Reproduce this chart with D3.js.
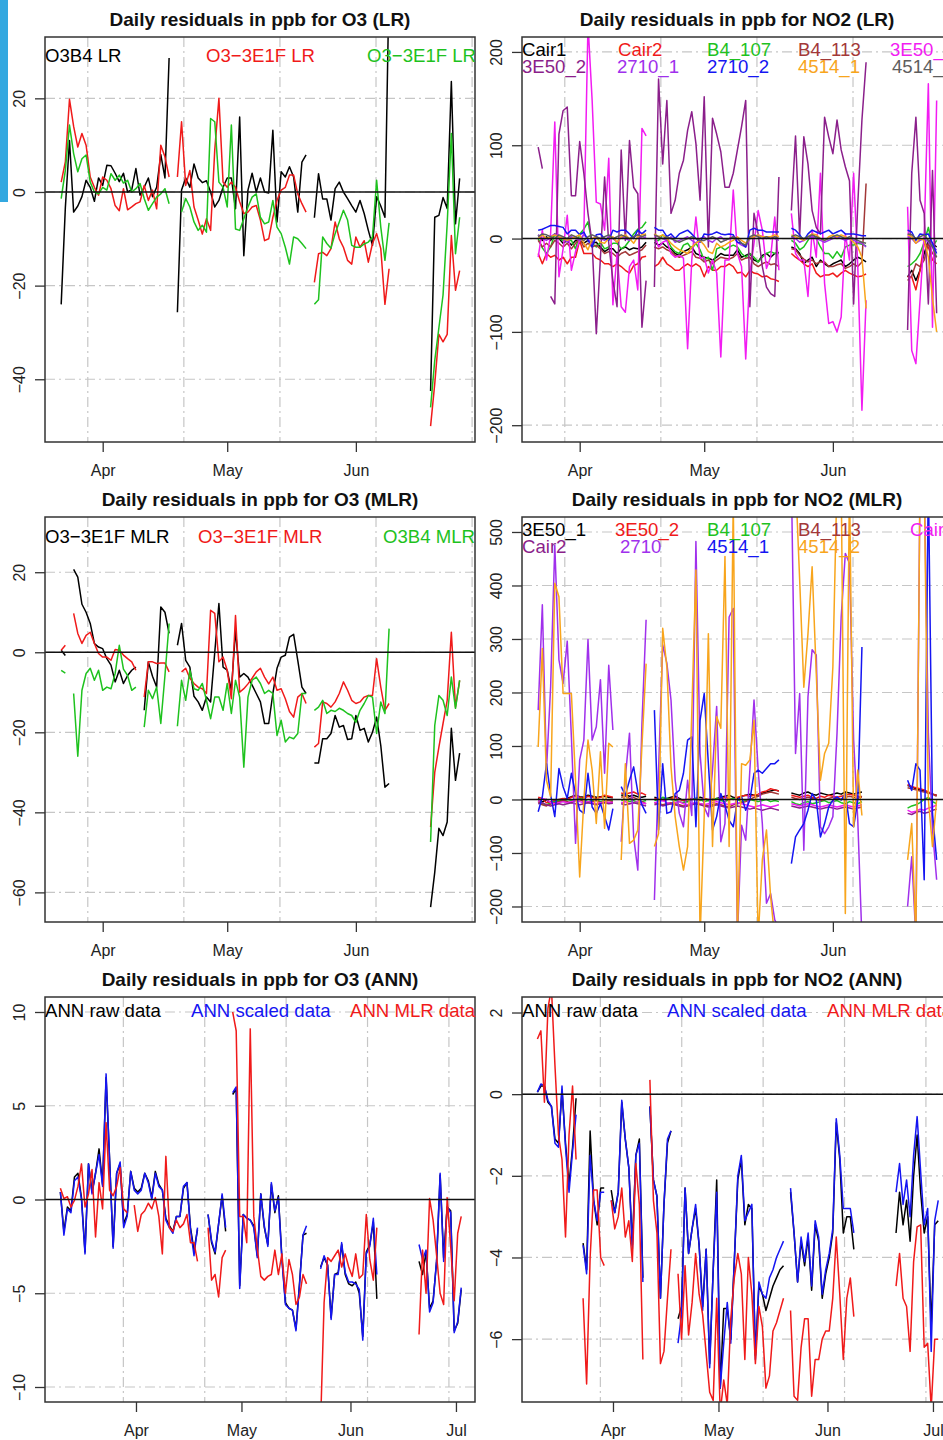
<!DOCTYPE html>
<html lang="en">
<meta charset="UTF-8">
<style>
  body { margin: 0; background: #fff; }
  svg { display: block; background: #fff; }
  text { font-family: "Liberation Sans", Arial, Helvetica, sans-serif; }
  .title { font-size: 19px; font-weight: bold; fill: #111; }
  .legend { font-size: 18.6px; }
  .axis text { font-size: 16px; fill: #222; }
  .axis line { stroke: #333; stroke-width: 1.3px; }
  .grid { stroke: #c6c6c6; stroke-width: 1.2px; stroke-dasharray: 10,4,2,4; fill: none; }
  .zero { stroke: #111; stroke-width: 1.5px; }
  .box { fill: none; stroke: #333; stroke-width: 1.5px; }
  .series { fill: none; stroke-width: 1.5px; stroke-linejoin: round; }
</style>
<body>
<svg id="chart" width="943" height="1440"></svg>
<script src="https://d3js.org/d3.v7.min.js"></script>
<script>
const NA = null;

// x categories: daily values
const topStart = Date.UTC(2014, 2, 22);      // LR / MLR panels, 97 days
const annStart = Date.UTC(2014, 2, 10, 12);  // ANN panels, 115 days

// y tick labels
const o3LrTicks = [-40, -20, 0, 20];
const no2LrTicks = [-200, -100, 0, 100, 200];
const o3MlrTicks = [-60, -40, -20, 0, 20];
const no2MlrTicks = [-200, -100, 0, 100, 200, 300, 400, 500];
const o3AnnTicks = [-10, -5, 0, 5, 10];
const no2AnnTicks = [-6, -4, -2, 0, 2];

// ---- O3 LR ----
const o3LrB4 = [-24, -3.4,
  11, -4.3, -3, -1, 2.5, 1, -2, 3, 1.4, 5.7, 5.6, 4, 2.2, 4, 0, 0.5, 5, -0.7, 1, 3, -1, 1, 8, 3, 28.6,
  NA,
  -25.7, 0.4, 3, 1, 6, 3, 2, 2.4, 0, -3.2, -1.8, 1, 3, 3, -3.6, 16, -13.6, 0.4, 4, 0, 3, 0, -0.2, 13.2, -6.4, 4.3, 3.2, 5.4, 3.2, -4.3, 6.4, 7.9,
  NA,
  -5.5, 3.9, -1.5, -1.5, -6, 0.7, 2.1, 0, -1.4, -2.9, -4.3, -1.8, -4.6, -8.2, -11.4, -1, -3, -5.4, 45,
  NA, NA, NA, NA, NA, NA, NA, NA, NA,
  -42.5, -5.4, -5, -1.2, -3.5, 23.6, -6.8, 2.9];
const o3Lr3E1Fa = [2.1, 6.4,
  19.8, 14, 9.6, 12.5, 10, 3.2, 1, -0.7, 3.2, 2.5, 0.7, -2.9, -4, 0.7, -3.8, -3.2, -2.5, -2.1, 1.4, -1.8, 0.4, -3.6, 10, 7.5, 3.2,
  NA,
  3.2, 15, 1.4, 4.6, -3.2, -6, -9, -5.7, -8.2, 9, 20, 2.1, 1, 2.1, 1, -2.1, -4.6, -4.3, -3.2, -2.9, -6, -10.4, -10, -5.4, -1.8, 0.4, 1, 3.6, 3.6, -0.4, -2.5, -4.3,
  NA,
  -19.3, -13.2, -12.9, -13.6, -12.1, -6.4, -10, -11.8, -14.6, -15.4, -9.6, -11.8, -10.4, -15, -11, -8.9, -12.1, -24, -16.4,
  NA, NA, NA, NA, NA, NA, NA, NA, NA,
  -50, -41, -30.4, -32, -30.4, -9.3, -21, -16.8];
const o3Lr3E1Fb = [-1.4, 4.6,
  14.3, 8.2, 4.3, 7.1, 7.9, 2.1, 0, -0.4, 1, 0.4, 3.9, 2.5, 3.6, 1.9, 2.5, 0, 0.7, 1.8, -1.4, -3.9, -2.5, -1.1, -0.4, 0.7, -2.5,
  NA, NA,
  -4.3, -1.4, -3.2, -6.4, -8.2, -7.1, -8.6, 15.7, 15, 2.1, 1, -3.2, 14.3, -7.9, -8.2, -5.7, -3.2, -1.1, -0.4, -5.4, -6.8, -6.4, -1.8, -7.5, -8.9, -11.8, -15.4, -9.6, -10, -11, -12.1,
  NA,
  -24, -23, -9.6, -11, -12, -8.9, -6.4, -3.9, -6, -11.4, -11.8, -11.8, -11.1, -10.7, -9.6, 2.5, -7.5, -14.6, -6.6,
  NA, NA, NA, NA, NA, NA, NA, NA, NA,
  -46, -36, -29, -22, -6.8, 12.5, -13.2, -5.4];

// ---- NO2 LR ----
const no2LrCair1 = [4, -2, 2, -2, 5, 0, -5, -2, -7, -2, -2, -5, -2, -5, -4, -9, -14, -11, -11, -16, -11, -9, -12, -10, -11, -9, -4,
  NA,
  -4, -7, -5, -9, -11, -16, -18, -14, -12, -9, -16, -18, -20, -21, -23, -20, -16, -18, -18, -18, -12, -20, -18, -16, -23, -25, -18, -16, -20, -16, -15,
  NA, NA,
  -9, -11, -16, -27, -23, -20, -30, -23, -27, -30, -27, -25, -23, -30, -27, -23, -20, -22, -25,
  NA, NA, NA, NA, NA, NA, NA, NA, NA,
  -41, -34, -45, -34, -16, -2, -5, -9];
const no2LrCair2 = [-16, -27, -16, -20, -18, -23, -20, -27, -20, -20, -2, -16, -16, -16, -21, -23, -27, -27, -30, -27, -30, -34, -37, -29, -27, -20, -19,
  NA,
  -30, -27, -20, -27, -30, -34, -34, -30, -27, -30, -27, -30, -41, -30, -34, -34, -30, -30, -27, -30, -37, -36, -41, -34, -37, -38, -41, -40, -43, -44, -46,
  NA, NA,
  -16, -20, -23, -27, -30, -27, -37, -41, -39, -39, -37, -41, -37, -34, -37, -39, -41, -40, -38,
  NA, NA, NA, NA, NA, NA, NA, NA, NA,
  -41, -41, -55, -34, -5, -9, -23, -27];
const no2LrB4107 = [0, -10, -16, -9, 5, 0, -2, -2, -2, -11, 5, 10, 18, -5, -9, -4, -11, -9, -5, -5, -11, -8, -2, 5, 10, 12, 18,
  NA,
  -2, -2, 4, 0, -9, -14, -16, -7, -5, -11, -5, -12, -23, -20, -34, -11, -9, -12, -9, -7, -9, -16, -20, -16, -20, -25, -20, -16, -14, -16, -16,
  NA, NA,
  -2, -5, -12, -9, -2, 5, 0, -9, -16, -16, -21, -14, -20, -9, -7, -7, -5, -6, -8,
  NA, NA, NA, NA, NA, NA, NA, NA, NA,
  -30, -27, -23, -16, -4, 12, -9, -2];
const no2LrB4113 = [-2, -9, -5, -9, -2, -5, -9, -5, -11, -5, 0, -9, -5, -9, -7, -11, -16, -14, -16, -20, -16, -14, -18, -16, -14, -12, -7,
  NA,
  -9, -11, -9, -12, -14, -18, -20, -18, -16, -14, -20, -21, -25, -23, -27, -23, -20, -21, -22, -20, -16, -23, -21, -20, -27, -30, -27, -25, -28, -27, -30,
  NA, NA,
  -11, -12, -18, -22, -25, -23, -27, -25, -25, -30, -30, -28, -27, -32, -30, -27, -30, -25, 59,
  NA, NA, NA, NA, NA, NA, NA, NA, NA,
  -45, -40, -27, -30, -23, -5, -16, -20];
const no2Lr3E501 = [-20, 9, -23, 5, 125, -41, -11, 25, -34, -14, -2, 5, 230, 148, 39, 37, 9, 86, -71, -16, -73, -79, -30, -23, -55, 118, 110,
  NA,
  5, -9, -4, -2, -16, -20, -18, -21, -118, -23, 23, -21, -20, -37, -23, -37, -127, -23, -23, 52, -16, -30, -129, -37, -5, 30, 9, -32, -20, 23, -34,
  NA, NA,
  27, -16, -23, -23, -62, 9, -20, 70, -48, -91, -89, -100, -84, 5, -23, 70, -30, -184, -66,
  NA, NA, NA, NA, NA, NA, NA, NA, NA,
  34, -120, -134, -66, 5, 166, -95, 148];
const no2Lr3E502 = [98, 75, NA, -62, -70, 112, 137, 141, 46, 46, 104, 70, 27, -5, -102, -20, 66, -5, -45, -73, 95, -2, 105, 55, 48, -95, -45,
  NA,
  -52, 171, 80, 148, 27, 41, 70, 84, 116, 136, 102, 41, 152, -9, 129, 112, 93, 55, 55, 70, 95, 120, 148, -73, 27, 5, -30, -52, -59, -62, 66,
  NA, NA,
  30, 110, 2, 109, 80, 30, 12, 5, 130, 109, 91, 127, 95, 77, 62, -70, 37, 127, 189,
  NA, NA, NA, NA, NA, NA, NA, NA, NA,
  -98, 70, 130, 41, 27, -70, 73, -80];
const no2Lr27101 = [4, 0, -2, 2, 5, 2, 0, -4, 2, 0, -2, 4, 0, -7, 2, 0, -2, 2, 0, -4, 2, 0, -2, 2, 4, 0, 2,
  NA,
  4, 2, 0, -2, 2, -4, -2, 0, 2, -2, -5, 0, 2, -2, -4, 0, 2, -2, 0, 2, -4, -7, -9, 0, 2, 4, 2, 0, 2, 0, -2,
  NA, NA,
  2, 0, -4, -2, 0, 2, 0, -2, -4, -2, 0, 2, 0, -2, 0, -2, -4, -5, -9,
  NA, NA, NA, NA, NA, NA, NA, NA, NA,
  2, 0, -5, -2, 0, -4, -9, -12];
const no2Lr27102 = [9, 10, 12, 14, 14, 13, 12, 5, 9, 9, 4, 7, -2, -9, 4, 5, 0, -2, 9, 7, 9, 9, 5, 0, 9, 5, 9,
  NA,
  12, 9, 9, 2, 5, 0, 5, 7, 9, 5, 0, -4, 5, 4, 5, 7, 5, 4, 5, 4, -4, -5, -9, 9, 11, 9, 9, 7, 7, 7, 7,
  NA, NA,
  11, 9, 4, -2, 5, 9, 7, 5, 7, 9, 5, 7, 9, 5, 5, 5, 4, 3, 3,
  NA, NA, NA, NA, NA, NA, NA, NA, NA,
  9, 7, -2, 5, 4, 5, -5, -16];
const no2Lr45141 = [0, 4, 0, 2, 4, 2, 0, -2, 0, 2, 4, -5, -12, 0, 2, -4, -5, 0, 2, -4, 2, 4, 0, -5, 2, 4, 5,
  NA,
  5, 2, 4, 0, -5, -9, -12, -14, -16, -9, -5, -2, -7, -14, -16, -5, -9, -7, -4, -2, 2, -2, -5, 0, 2, 4, 2, 2, 2, 4, 2,
  NA, NA,
  4, 2, 0, -2, 2, 5, 4, 0, -2, 2, 4, 2, 4, 2, 0, -4, -9, -20, -75,
  NA, NA, NA, NA, NA, NA, NA, NA, NA,
  4, 2, -5, 0, -2, -20, -64, -100];
const no2Lr45142 = [2, 5, 4, 2, 0, 4, 2, 0, 4, 2, 0, -2, 2, 4, 2, 0, 2, 4, 0, 2, 4, 2, 0, 2, 4, 2, 4,
  NA,
  4, 2, 0, 2, 0, -2, -4, -2, 0, 2, 0, -2, -2, 0, 2, 0, -4, -2, 0, 2, 0, -5, -7, 2, 4, 2, 0, 2, 0, 2, 0,
  NA, NA,
  2, 4, 2, 0, 2, 4, 2, 0, -2, 0, 2, 4, 2, 0, 2, 0, -2, -4, -5,
  NA, NA, NA, NA, NA, NA, NA, NA, NA,
  5, 4, 0, 2, 4, -2, -9, -20];

// ---- O3 MLR ----
const o3Mlr3E1Fa = [0.5, -0.8, NA,
  20.7, 18.8, 12, 10, 7.2, 2.2, 1.3, 0.9, -1.6, -3.2, -7.4, -4.5, -7.8, -5.8, -4.5, -3.7,
  NA,
  -14.5, -2.4, -6, -8.7, 11.3, 10, 4.7,
  NA,
  1.75, 7.2, -2, -3.7, -11, -12.4, -14.5, -11.2, -12.4, 0, 12.2, -3.7, -4.5, -9.5, 5.5, -6.2, -5.3, -6.2, -8.2, -10.3, -12.4, -17.8, -17.8, -10.3, -4, -1.2, -0.75, 3.8, 4.5, -2, -8.7, -10.3,
  NA,
  -27.7, -27.7, -21.6, -21.6, -20.3, -15.8, -18.7, -18.3, -21.8, -21.6, -15.8, -19.5, -19, -22.4, -20, -16.2, -23.3, -33.7, -32.8,
  NA, NA, NA, NA, NA, NA, NA, NA, NA,
  -63.7, -55, -44, -45.8, -42.4, -19, -32, -25.2];
const o3Mlr3E1Fb = [0.5, 1.75, NA,
  9.7, 4.7, 2.2, 4.2, 5, 2.2, -0.3, -1.2, -1.2, -2, 0.7, 0.5, -0.7, -1.6, -2.4, -4.5,
  NA,
  -11.2, -2.4, -2.4, -2.8, -2.7, -2.7, -4.9,
  NA, NA,
  -4.9, -4, -6.5, -7.8, -8.7, -9.1, -10.3, 10.5, 9.7, -2.4, -1.2, -4.5, -11.6, 9.2, -10, -9.1, -7.9, -6.5, -4.9, -4, -6.2, -7.9, -6.2, -9.5, -9.1, -11.6, -14.8, -16.2, -11.2, -10.3, -12.8,
  NA,
  -23.7, -22.8, -12.4, -12.8, -13.7, -12.4, -10.3, -7.4, -9.5, -12, -12.8, -12.4, -11.2, -10.8, -10.8, -1.6, -8.7, -14.5, -12.8,
  NA, NA, NA, NA, NA, NA, NA, NA, NA,
  -43.7, -30, -23.7, -17.8, -12, 5, -13.7, -7];
const o3MlrB4 = [-4.5, -5.2, NA,
  -10.3, -26, -9.5, -5.3, -4, -7, -4.5, -9.5, -8.7, -9.1, -5.3, 1.75, -4.2, -5.8, -9.5, -8.7,
  NA,
  -18.7, -9.5, -11.6, -8.7, -17.8, -5.8, 7.2,
  NA,
  -18.5, -7, -12, -4.5, -9.1, -9.5, -7.8, -12, -16.6, -11.2, -11.2, -14.5, -7.8, -15.3, -7, -11.2, -28.7, -11.2, -7, -6.2, -7.8, -10.3, -9.5, -10.3, -20.8, -17, -22.4, -21.2, -21.6, -20.3, -10.3, -10.3,
  NA,
  -14.5, -13.7, -12, -15.3, -14.5, -14.8, -14, -14.5, -15.3, -15.8, -17.5, -14.5, -12.8, -10.8, -11.2, -20.3, -12.4, -15.3, 5.9,
  NA, NA, NA, NA, NA, NA, NA, NA, NA,
  -47.4, -18.3, -10.8, -12, -15.8, -6.2, -14, -7];

// ---- NO2 MLR ----
const no2Mlr3E501 = [2, -5, 0, -8, -4, -2, 0, 2, 5, 8, 5, 4, 8, 6, 4, 5, 6, 4, 3,
  NA, 8, 9, 6, 8, 5, 4, 6, NA,
  4, 2, 0, 2, 4, 6, 2, -2, -4, 0, 2, 4, 2, -2, 0, 2, 4, 6, 8, 4, 2, 6, 8, 10, 8, 6, 12, 14, 16, 18, 16,
  NA, NA,
  12, 10, 8, 12, 14, 10, 8, 12, 10, 8, 10, 12, 10, 14, 12, 10, 12, 14,
  NA, NA, NA, NA, NA, NA, NA, NA, NA, NA,
  26, 24, 20, 18, 16, 12, 10, 8];
const no2Mlr3E502 = [4, 2, -6, -4, -2, 0, 2, 0, 4, 6, 4, 2, 6, 4, 2, 4, 8, 6, 4,
  NA, 12, 10, 12, 14, 10, 12, 8, NA,
  2, 0, -2, 0, 2, 4, 0, -2, 0, 2, 0, -2, 2, 0, -2, 0, 2, 4, 2, 0, 4, 6, 8, 6, 8, 10, 14, 16, 20, 18, 16,
  NA, NA,
  8, 6, 4, 6, 8, 4, 2, 6, 4, 8, 6, 4, 6, 8, 10, 8, 6, 4,
  NA, NA, NA, NA, NA, NA, NA, NA, NA, NA,
  28, 24, 22, 20, 18, 14, 10, 8];
const no2MlrB4107 = [-2, -8, -10, -6, -4, -2, -4, 0, -2, 0, 2, 0, -4, -2, 0, -4, -2, 0, -2,
  NA, -2, 0, -4, -2, -6, -4, -2, NA,
  -2, 0, 4, 2, 0, -2, -4, -6, -4, 0, 2, 0, -4, -2, 0, 2, -2, -4, 0, 2, 0, -4, -2, 0, -2, -4, -2, 0, -4, -2, -4,
  NA, NA,
  -4, -8, -10, -6, -4, -8, -6, -4, -2, -6, -4, -2, -6, -8, -4, -6, -8, -4,
  NA, NA, NA, NA, NA, NA, NA, NA, NA, NA,
  -16, -12, -10, -6, 0, 4, -4, -8];
const no2MlrB4113 = [-4, -10, -12, -8, -6, -4, -2, -4, -6, -2, 0, -4, -6, -4, -2, -6, -4, -2, -4,
  NA, 4, 6, 2, 4, 0, -4, -8, NA,
  -6, -8, -10, -8, -6, -8, -10, -12, -10, -8, -6, -8, -10, -12, -10, -8, -10, -12, -14, -10, -8, -6, -4, 0, 4, 6, 10, 12, 14, 12, 10,
  NA, NA,
  4, 2, 0, 2, 4, 2, 0, -2, 0, 2, 4, 2, 0, 4, 6, 4, 2, 6,
  NA, NA, NA, NA, NA, NA, NA, NA, NA, NA,
  22, 20, 18, 16, 14, 12, 10, 6];
const no2MlrCair1 = [-4, 2, 0, -6, -8, -6, -4, -6, -4, -2, -4, -6, -4, -6, -8, -6, -4, -6, -5,
  NA, -6, -4, -8, -6, -4, -6, -8, NA,
  -6, -4, -2, -6, -8, -6, -4, -8, -10, -8, -6, -8, -10, -8, -6, -4, -6, -8, -10, -8, -6, -8, -10, -12, -14, -12, -10, -12, -14, -12, -10,
  NA, NA,
  -8, -10, -12, -10, -8, -10, -12, -14, -12, -10, -12, -14, -12, -10, -12, -14, -12, -10,
  NA, NA, NA, NA, NA, NA, NA, NA, NA, NA,
  -20, -24, -22, -18, -20, -16, -14, -10];
const no2MlrCair2 = [-8, -6, -10, -12, -10, -8, -10, -8, -6, -8, -10, -8, -6, -8, -10, -8, -6, -8, -7,
  NA, -8, -10, -8, -6, -8, -10, -12, NA,
  -10, -8, -12, -10, -8, -10, -12, -14, -12, -10, -8, -10, -12, -14, -12, -10, -12, -14, -16, -14, -12, -14, -16, -18, -16, -18, -20, -18, -16, -18, -20,
  NA, NA,
  -12, -14, -16, -14, -12, -14, -16, -18, -16, -14, -16, -18, -16, -14, -16, -18, -16, -14,
  NA, NA, NA, NA, NA, NA, NA, NA, NA, NA,
  -26, -28, -24, -22, -26, -24, -20, -18];
const no2Mlr2710 = [167, 364, 55, 211, 475, 261, 217, 296, 117, -82, 74, 111, 299, 111, 136, 224, 49, 251, 130,
  NA, -79, 42, 124, -70, -132, 142, 336, NA,
  -188, 55, 289, 255, 186, 36, -26, -51, 36, -30, 482, 86, -14, -32, 55, 174, -79, -45, 341, 357, -260, -48, -76, 55, 186, 55, -45, -194, -176, -225, -240,
  NA, NA,
  600, 86, 198, -95, 192, 280, 270, -51, -64, -51, -32, 124, 341, 460, 441, 111, -39, -260,
  NA, NA, NA, NA, NA, NA, NA, NA, NA, NA,
  -200, -107, -260, 600, 600, 124, -57, -150];
const no2Mlr45141 = [-23, 5, 67, 8, -32, 58, 24, 2, 49, 11, -20, -26, 49, -14, -26, -8, -32, -57, -17,
  NA, 24, 8, 36, 61, 14, -10, -26, NA,
  167, -57, 67, -26, -23, 11, 17, 49, 111, 117, -51, 148, 198, 67, -57, -32, 11, -11, -39, -51, -1, 5, -20, -1, 49, 55, 49, 58, 67, 67, 74,
  NA, NA,
  -120, -70, -57, -45, -20, 11, -1, -70, -45, -14, -1, 5, -1, 11, -45, -51, -1, 285,
  NA, NA, NA, NA, NA, NA, NA, NA, NA, NA,
  36, 17, 67, 55, -150, 600, -26, -113];
const no2Mlr45142 = [98, 282, 36, 5, 404, 379, 198, 198, 198, 36, -145, -2, 111, 55, -45, 89, -54, 105, 98,
  NA, -113, 67, -82, -76, -57, 100, 254, NA,
  -88, -64, 320, 248, 61, -32, -88, -132, -88, 161, 429, -260, -32, 310, -88, 155, 133, 454, -88, 560, -260, 67, 64, 74, 148, -260, -113, -57, -182, -260, -260,
  NA, NA,
  600, 600, 410, 210, 310, 435, 235, 36, 86, 105, 248, 600, 600, -213, 600, -51, 55, -30,
  NA, NA, NA, NA, NA, NA, NA, NA, NA, NA,
  -113, -45, -260, 600, 600, 0, -88, 0];

// ---- O3 ANN ----
const o3AnnRaw = [0.4, -1.7, -0.4, -0.6, 1.2, 1.4, 0.1, -2.8, 1.9, 0.4, 1.4, 2.7, 0.8, 6.5, 2.1, -2.5, 1.4, 1.9, -1.3, -0.8,
  1.5, 0.6, 0.4, 0.6, 1.4, 1.0, 0.1, 1.5, 0.8, 0.5, -1.0, -1.4, -1.7, -0.9, -0.9, 0.6, 0.9, -1.5, -2.7, -1.6,
  NA, NA,
  -0.8, -2.3, -2.9, -1.3, 0.2, -1.7,
  NA,
  5.6, 5.9, -4.6, -0.8, -1.0, -1.1, -1.4, -3.0, 0.3, -1.5, -2.4, 0.8, -0.7, 0.2, -3.1, -5.5, -5.8, -5.9, -6.9, -4.5, -1.9, -1.8,
  NA, NA, NA,
  -3.6, -3.1, -3.5, -6.3, -4.0, -3.9, -2.4, -4.0, -4.5, -4.6, -4.4, -5.0, -7.3, -2.8, -2.4, -1.2, -5.3,
  NA, NA, NA, NA, NA, NA, NA, NA, NA, NA, NA,
  -3.3, -4.0, -2.8, -5.8, -5.4, -3.3, 1.3, -3.1, -0.4, -0.6, -7.0, -6.6, -4.8];
const o3AnnScaled = [0.4, -1.9, -0.5, -0.7, 1.0, 1.2, 0.0, -2.9, 1.9, 0.3, 1.4, 2.4, 0.7, 6.7, 2.1, -2.6, 1.4, 2.0, -1.5, -0.9,
  1.5, 0.5, 0.3, 0.5, 1.4, 0.9, 0.0, 1.4, 0.7, 0.5, -1.1, -1.5, -1.8, -0.9, -0.9, 0.7, 0.9, -1.6, -3.0, -1.5,
  NA, NA,
  -0.8, -2.2, -2.8, -1.3, 0.3, -1.5,
  NA,
  5.7, 6.0, -4.75, -0.8, -1.0, -1.1, -1.5, -3.1, 0.3, -1.4, -2.5, 0.9, -0.6, 0.1, -3.2, -5.6, -5.8, -5.9, -7.0, -4.6, -1.9, -1.4,
  NA, NA, NA,
  -3.7, -3.0, -3.5, -6.4, -4.0, -4.0, -2.3, -3.9, -4.4, -4.4, -4.5, -4.8, -7.5, -2.9, -2.5, -1.0, -4.0,
  NA, NA, NA, NA, NA, NA, NA, NA, NA, NA, NA,
  -2.4, -3.2, -2.7, -6.0, -5.5, -3.2, 1.4, -3.3, -0.4, -0.7, -7.1, -6.5, -4.7];
const o3AnnMlr = [0.6, 0.05, 0.15, -0.4, -0.05, 0.7, 1.9, -0.4, 0.3, 1.6, -2, 0.9, -0.5, 4.1, 0.5, 0.2, 0.7, 1.7, -0.5, -0.7,
  NA,
  -0.3, -1.7, -0.8, -0.6, -0.2, -0.5, 0.1, -0.9, -2.9, 2.3, -1.5, -1.7, -1.1, -1.5, -1.3, -0.8, -2.3, -2.3, -3.3,
  NA, NA,
  -1.5, -4.3, -4, -5.2, -3.1, -2.7,
  NA,
  10, 9, -0.9, -0.9, -2.3, 9.1, -0.9, -2.6, -4.1, -4.3, -4.1, -4, -2.7, -4, -2.9, -5, -3.2, -4, -5.6, -5.2, -4, -4.5,
  NA, NA, NA,
  -12, -5.5, -3.1, -3.3, -3, -2.7, -3.6, -2.9, -3.6, -4.1, -2.9, -4.2, -4, -0.8, -3.2, -4.3, -1.5,
  NA, NA, NA, NA, NA, NA, NA, NA, NA, NA, NA,
  -7.2, -2.7, -5, 0.05, -1.1, -3, -5, -5.6, 0.1, -2.5, -5.4, -1.8, -0.9];

// ---- NO2 ANN ----
const no2AnnRaw = [0.05, 0.2, 0.2, -0.2, -0.3, -1.1, -1.2, 0.1, -1.2, -2.2, -1.3, -0.1,
  NA, -3.65, -4.3, -0.9, -2.6, -3.2, -2.3, -2.3,
  NA, -2.35, -2.9, -2.4, -0.2, -1.1, -1.8, -3.7, -1.5, -1.1, -4.5,
  NA, -0.3, -2.1, -2.5, -5.0, -2.7, -1.2, -0.9,
  NA,
  -5.5, -5.2, -2.3, -3.9, -3.3, -2.8, -3.7, -5.2, -3.8, -6.6, -4.3, -2.1, -7.2, -5.25, -5.25, -6.0, -4.1, -2.1, -1.6, -3.2, -2.7, -2.8, -6.4, -4.7, -4.9, -5.3, -5.0, -4.7, -4.5, -4.3, -4.2,
  NA,
  -2.4, -3.4, -4.6, -3.6, -4.2, -3.5, -4.8, -3.2, -3.6, -5.0, -4.4, -4.0, -3.4, -0.7, -1.6, -3.4, -3.0, -3.0, -3.8,
  NA, NA, NA, NA, NA, NA, NA, NA, NA, NA, NA,
  -3.4, -2.4, -3.2, -2.6, -3.6, -2.0, -1.0, -2.4, -3.4, -3.0, -5.7, -3.2, -3.1];
const no2AnnScaled = [0.05, 0.25, 0.2, -0.15, -0.3, -1.2, -1.3, 0.2, -1.3, -2.4, -1.4, -0.5,
  NA, -3.7, -4.4, -1.5, -2.6, -3.1, -2.4, -2.4,
  NA, -2.6, -2.9, -2.4, -0.15, -1.1, -1.8, -3.8, -1.5, -1.2, -4.6,
  NA, -0.3, -2.1, -2.5, -5.0, -2.7, -1.1, -0.9,
  NA,
  -6.1, -5.4, -2.3, -3.9, -3.3, -2.7, -3.7, -5.3, -3.8, -6.7, -4.3, -2.4, -7.2, -6.1, -5.1, -6.1, -4.1, -2.0, -1.5, -3.1, -2.9, -2.7, -6.5, -4.6, -4.9, -5.0, -4.5, -4.3, -4.0, -3.8, -3.6,
  NA,
  -2.3, -3.4, -4.6, -3.5, -4.1, -3.4, -4.7, -3.1, -3.5, -4.9, -4.3, -3.9, -3.3, -0.6, -1.5, -2.8, -2.8, -2.8, -3.4,
  NA, NA, NA, NA, NA, NA, NA, NA, NA, NA, NA,
  -2.4, -1.7, -2.7, -2.1, -3.0, -1.5, -0.55, -1.9, -3.2, -2.8, -6.3, -3.1, -2.6];
const no2AnnMlr = [1.35, 1.55, -0.2, 2.1, 2.6, 0.7, -1.0, -1.6, -3.5, -1.0, 0.2, -1.6,
  NA, -5.0, -7.1, -4.0, -2.35, -2.35, -4.0, -4.2,
  NA, -2.6, -3.3, -3.0, -2.3, -3.5, -3.1, -4.1, -1.7, -2.7, -6.5,
  NA, 0.35, -2.6, -3.4, -6.6, -6.3, -5.0, -3.8,
  NA,
  -4.4, -6.0, -4.2, -5.9, -5.1, -3.9, -4.9, -5.4, -6.35, -7.3, -7.5, -5.0, -7.8, -7.0, -7.6, -5.5, -4.5, -3.9, -4.4, -6.5, -4.0, -4.9, -6.6, -5.2, -5.7, -7.2, -6.9, -5.8, -5.6, -5.3, -5.0,
  NA,
  -5.3, -7.4, -7.5, -6.2, -5.5, -5.5, -7.4, -6.5, -6.5, -6.0, -5.8, -5.8, -5.0, -3.5, -4.9, -6.5, -5.0, -4.5, -5.45,
  NA, NA, NA, NA, NA, NA, NA, NA, NA, NA, NA,
  -4.7, -3.9, -5.0, -5.2, -6.3, -4.1, -3.25, -3.2, -6.2, -6.1, -7.7, -6.0, -6.0];

// ---------- layout ----------
const W = 430, H = 405;
const colX = [45, 522];
const rowY = [37, 517, 997];

const BLACK = '#000', RED = '#f01a1a', GREEN = '#1ec21e', BLUE = '#1515f2', BROWN = '#a33838',
      MAGENTA = '#f21cf2', DARKMAG = '#8b1f8b', PURPLE = '#a030ec', ORANGE = '#f8a51c', GRAY = '#5e5e5e';

const topDates = o3LrB4.map((v, i) => new Date(topStart + i * 864e5));
const annDates = o3AnnRaw.map((v, i) => new Date(annStart + i * 864e5));
const topDomain = [new Date(Date.UTC(2014, 2, 18, 2, 24)), new Date(Date.UTC(2014, 5, 29, 16, 48))];
const annDomain = [new Date(Date.UTC(2014, 2, 6, 3)), new Date(Date.UTC(2014, 6, 6, 10))];
// R grid() on the POSIXct axis: every 2e6 seconds
const gridTimes = [698, 699, 700, 701, 702].map(k => new Date(k * 2e9));

const panels = [
  { col: 0, row: 0, title: 'Daily residuals in ppb for O3 (LR)', ann: false,
    yDomain: [-53.4, 33.1], yTicks: o3LrTicks, legendY: [25],
    series: [
      { name: 'O3B4 LR', color: BLACK, values: o3LrB4, lx: 0, ly: 0 },
      { name: 'O3\u22123E1F LR', color: RED, values: o3Lr3E1Fa, lx: 161, ly: 0 },
      { name: 'O3\u22123E1F LR', color: GREEN, values: o3Lr3E1Fb, lx: 322, ly: 0 }
    ] },
  { col: 1, row: 0, title: 'Daily residuals in ppb for NO2 (LR)', ann: false,
    yDomain: [-218, 216], yTicks: no2LrTicks, legendY: [18.5, 35.5],
    series: [
      { name: 'Cair1', color: BLACK, values: no2LrCair1, lx: 0, ly: 0 },
      { name: 'Cair2', color: RED, values: no2LrCair2, lx: 96, ly: 0 },
      { name: 'B4_107', color: GREEN, values: no2LrB4107, lx: 185, ly: 0 },
      { name: 'B4_113', color: BROWN, values: no2LrB4113, lx: 276, ly: 0 },
      { name: '3E50_1', color: MAGENTA, values: no2Lr3E501, lx: 368, ly: 0 },
      { name: '3E50_2', color: DARKMAG, values: no2Lr3E502, lx: 0, ly: 1 },
      { name: '2710_1', color: PURPLE, values: no2Lr27101, lx: 95, ly: 1 },
      { name: '2710_2', color: BLUE, values: no2Lr27102, lx: 185, ly: 1 },
      { name: '4514_1', color: ORANGE, values: no2Lr45141, lx: 276, ly: 1 },
      { name: '4514_2', color: GRAY, values: no2Lr45142, lx: 370, ly: 1 }
    ] },
  { col: 0, row: 1, title: 'Daily residuals in ppb for O3 (MLR)', ann: false,
    yDomain: [-67.4, 33.8], yTicks: o3MlrTicks, legendY: [25.5],
    series: [
      { name: 'O3\u22123E1F MLR', color: BLACK, values: o3Mlr3E1Fa, lx: 0, ly: 0 },
      { name: 'O3\u22123E1F MLR', color: RED, values: o3Mlr3E1Fb, lx: 153, ly: 0 },
      { name: 'O3B4 MLR', color: GREEN, values: o3MlrB4, lx: 338, ly: 0 }
    ] },
  { col: 1, row: 1, title: 'Daily residuals in ppb for NO2 (MLR)', ann: false,
    yDomain: [-229, 528], yTicks: no2MlrTicks, legendY: [18.5, 35.5],
    series: [
      { name: '3E50_1', color: BLACK, values: no2Mlr3E501, lx: 0, ly: 0 },
      { name: '3E50_2', color: RED, values: no2Mlr3E502, lx: 93, ly: 0 },
      { name: 'B4_107', color: GREEN, values: no2MlrB4107, lx: 185, ly: 0 },
      { name: 'B4_113', color: BROWN, values: no2MlrB4113, lx: 276, ly: 0 },
      { name: 'Cair1', color: MAGENTA, values: no2MlrCair1, lx: 388, ly: 0 },
      { name: 'Cair2', color: DARKMAG, values: no2MlrCair2, lx: 0, ly: 1 },
      { name: '2710', color: PURPLE, values: no2Mlr2710, lx: 98, ly: 1 },
      { name: '4514_1', color: BLUE, values: no2Mlr45141, lx: 185, ly: 1 },
      { name: '4514_2', color: ORANGE, values: no2Mlr45142, lx: 276, ly: 1 }
    ] },
  { col: 0, row: 2, title: 'Daily residuals in ppb for O3 (ANN)', ann: true,
    yDomain: [-10.8, 10.8], yTicks: o3AnnTicks, legendY: [19.5],
    series: [
      { name: 'ANN raw data', color: BLACK, values: o3AnnRaw, lx: 0, ly: 0 },
      { name: 'ANN scaled data', color: BLUE, values: o3AnnScaled, lx: 146, ly: 0 },
      { name: 'ANN MLR data', color: RED, values: o3AnnMlr, lx: 305, ly: 0 }
    ] },
  { col: 1, row: 2, title: 'Daily residuals in ppb for NO2 (ANN)', ann: true,
    yDomain: [-7.54, 2.38], yTicks: no2AnnTicks, legendY: [19.5],
    series: [
      { name: 'ANN raw data', color: BLACK, values: no2AnnRaw, lx: 0, ly: 0 },
      { name: 'ANN scaled data', color: BLUE, values: no2AnnScaled, lx: 145, ly: 0 },
      { name: 'ANN MLR data', color: RED, values: no2AnnMlr, lx: 305, ly: 0 }
    ] }
];

const svg = d3.select('#chart');

panels.forEach((p, k) => {
  const g = svg.append('g').attr('transform', `translate(${colX[p.col]},${rowY[p.row]})`);
  const dates = p.ann ? annDates : topDates;
  const x = d3.scaleUtc().domain(p.ann ? annDomain : topDomain).range([0, W]);
  const y = d3.scaleLinear().domain(p.yDomain).range([H, 0]);

  g.append('clipPath').attr('id', 'clip' + k)
    .append('rect').attr('width', W).attr('height', H);

  // dash-dot grid
  g.append('g').selectAll('line').data(p.yTicks).join('line')
    .attr('class', 'grid')
    .attr('x1', 0).attr('x2', W)
    .attr('y1', d => y(d)).attr('y2', d => y(d));
  const [t0, t1] = x.domain();
  g.append('g').selectAll('line').data(gridTimes.filter(t => t >= t0 && t <= t1)).join('line')
    .attr('class', 'grid')
    .attr('x1', d => x(d)).attr('x2', d => x(d))
    .attr('y1', 0).attr('y2', H);

  // residual lines
  const line = d3.line()
    .defined(d => d[1] !== null)
    .x(d => x(d[0]))
    .y(d => y(d[1]));
  const plot = g.append('g').attr('clip-path', `url(#clip${k})`);
  p.series.forEach(s => {
    plot.append('path')
      .datum(s.values.map((v, i) => [dates[i], v]))
      .attr('class', 'series')
      .attr('stroke', s.color)
      .attr('d', line);
  });

  g.append('line').attr('class', 'zero')
    .attr('x1', 0).attr('x2', W).attr('y1', y(0)).attr('y2', y(0));

  g.append('rect').attr('class', 'box').attr('width', W).attr('height', H);

  // axes
  const yAxis = g.append('g').attr('class', 'axis')
    .call(d3.axisLeft(y).tickValues(p.yTicks).tickSize(10).tickFormat(d3.format('d')));
  yAxis.select('.domain').remove();
  yAxis.selectAll('text')
    .attr('transform', 'rotate(-90)')
    .attr('x', 0).attr('y', -20).attr('dy', 0)
    .attr('text-anchor', 'middle');

  const xAxis = g.append('g').attr('class', 'axis')
    .attr('transform', `translate(0,${H})`)
    .call(d3.axisBottom(x).tickValues(d3.utcMonth.range(t0, t1)).tickSize(10).tickFormat(d3.utcFormat('%b')));
  xAxis.select('.domain').remove();
  xAxis.selectAll('text').attr('y', 34).attr('dy', 0);

  g.append('text').attr('class', 'title')
    .attr('x', W / 2).attr('y', -11)
    .attr('text-anchor', 'middle')
    .text(p.title);

  g.selectAll('.legend').data(p.series).join('text')
    .attr('class', 'legend')
    .attr('x', d => d.lx)
    .attr('y', d => p.legendY[d.ly])
    .attr('fill', d => d.color)
    .text(d => d.name);
});

// blue strip at the left edge of the picture
svg.append('rect').attr('x', 0).attr('y', 0).attr('width', 8).attr('height', 202).attr('fill', '#33a8e0');
</script>
</body>
</html>
